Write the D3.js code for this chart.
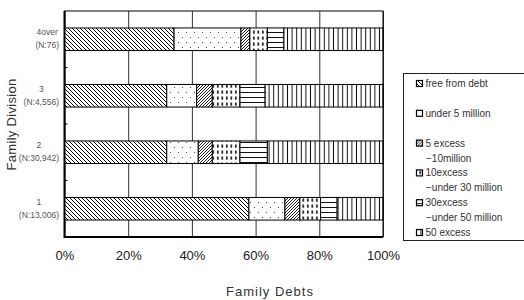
<!DOCTYPE html>
<html>
<head>
<meta charset="utf-8">
<script src="https://cdn.jsdelivr.net/npm/d3@7"></script>
<style>
  body { margin: 0; background: #fff; }
  svg { display: block; font-family: "Liberation Sans", Arial, sans-serif; }
</style>
</head>
<body>
<svg id="chart" width="524" height="300"></svg>
<script>
// categories (top to bottom) and their sample sizes
var categories = ["4over", "3", "2", "1"];
var sampleSizes = ["(N:76)", "(N:4,556)", "(N:30,942)", "(N:13,006)"];

// share of households (%) per debt class
var freeFromDebt = [34.4, 32.1, 32.1, 57.9];
var under5 = [21.0, 9.4, 9.9, 11.3];
var excess5to10 = [2.8, 4.9, 4.4, 4.7];
var excess10to30 = [5.5, 8.7, 8.7, 6.5];
var excess30to50 = [5.2, 7.9, 8.6, 5.2];
var excess50 = [31.1, 37.0, 36.3, 14.4];

var seriesKeys = ["free", "u5", "e5", "e10", "e30", "e50"];
var legendLabels = [
  ["free from debt"],
  ["under 5 million"],
  ["5 excess", "\u221210million"],
  ["10excess", "\u2212under 30 million"],
  ["30excess", "\u2212under 50 million"],
  ["50 excess"]
];
var xTicks = [0, 20, 40, 60, 80, 100];

(function() {
var rows = categories.map(function(c, i) {
  return { cat: c, n: sampleSizes[i], free: freeFromDebt[i], u5: under5[i], e5: excess5to10[i],
           e10: excess10to30[i], e30: excess30to50[i], e50: excess50[i] };
});

var svg = d3.select("#chart");
var pl = 64.5, pr = 383, pt = 11, pb = 237;

var x = d3.scaleLinear().domain([0, 100]).range([pl, pr]);
var y = d3.scaleBand().domain(categories).range([pt, pb]).paddingInner(0.6).paddingOuter(0.3);

// hatch patterns
var defs = svg.append("defs");
function pat(id, w, h) {
  return defs.append("pattern").attr("id", id).attr("patternUnits", "userSpaceOnUse")
    .attr("width", w).attr("height", h);
}
function diag(id, size, back, col) {
  var q = pat(id, size, size);
  q.append("rect").attr("width", size).attr("height", size).attr("fill", "#fff");
  d3.range(size).forEach(function(i) {
    q.append("rect").attr("x", back ? i : size - 1 - i).attr("y", i)
      .attr("width", 1).attr("height", 1).attr("fill", col);
  });
}
var p;
diag("p-free", 4, true, "#111");

p = pat("p-u5", 8, 10);
p.append("rect").attr("width", 8).attr("height", 10).attr("fill", "#fff");
p.append("rect").attr("x", 2).attr("y", 2).attr("width", 1).attr("height", 1).attr("fill", "#555");
p.append("rect").attr("x", 6).attr("y", 7).attr("width", 1).attr("height", 1).attr("fill", "#555");

diag("p-e5", 3, false, "#222");

p = pat("p-e10", 4.5, 6);
p.append("rect").attr("width", 4.5).attr("height", 6).attr("fill", "#fff");
p.append("rect").attr("x", 1).attr("y", 0.5).attr("width", 1.6).attr("height", 3.2).attr("fill", "#111");

p = pat("p-e30", 5, 5);
p.append("rect").attr("width", 5).attr("height", 5).attr("fill", "#fff");
p.append("line").attr("x1", 0).attr("x2", 5).attr("y1", 2.5).attr("y2", 2.5).attr("stroke", "#111").attr("stroke-width", 1);

p = pat("p-e50", 4.6, 5);
p.append("rect").attr("width", 4.6).attr("height", 5).attr("fill", "#fff");
p.append("line").attr("x1", 2.3).attr("x2", 2.3).attr("y1", 0).attr("y2", 5).attr("stroke", "#111").attr("stroke-width", 1);

// gridlines + x tick labels
var gx = svg.append("g").attr("transform", "translate(0," + pb + ")")
  .call(d3.axisBottom(x).tickValues(xTicks).tickSize(-(pb - pt)).tickPadding(14)
    .tickFormat(function(d) { return d + "%"; }));
gx.select(".domain").remove();
gx.selectAll("line").attr("stroke", "#333");
gx.selectAll("text").attr("font-size", 13).attr("fill", "#222")
  .attr("font-family", "'Liberation Sans', Arial, sans-serif");

// stacked bars
var stack = d3.stack().keys(seriesKeys)(rows);
svg.append("g").selectAll("g").data(stack).join("g")
  .attr("fill", function(d) { return "url(#p-" + d.key + ")"; })
  .selectAll("rect").data(function(d) { return d; }).join("rect")
  .attr("x", function(d) { return x(d[0]); })
  .attr("width", function(d) { return x(d[1]) - x(d[0]); })
  .attr("y", function(d) { return y(d.data.cat); })
  .attr("height", y.bandwidth())
  .attr("stroke", "#000").attr("stroke-width", 1);

// frame
svg.append("rect").attr("x", pl).attr("y", pt).attr("width", pr - pl).attr("height", pb - pt)
  .attr("fill", "none").attr("stroke", "#000").attr("stroke-width", 1);
svg.append("path").attr("d", "M" + pl + "," + pt + "V" + pb + "H" + pr)
  .attr("fill", "none").attr("stroke", "#000").attr("stroke-width", 2);

// small ticks between categories
var bounds = categories.slice(1).map(function(c) { return y(c) - y.step() * y.paddingInner() / 2; });
svg.append("g").selectAll("line").data(bounds).join("line")
  .attr("x1", pl).attr("x2", pl + 3).attr("y1", function(d) { return d; }).attr("y2", function(d) { return d; })
  .attr("stroke", "#000");

// category labels, two lines each
var labs = svg.append("g").selectAll("g").data(rows).join("g");
labs.each(function(d) {
  var g = d3.select(this), cy = y(d.cat) + y.bandwidth() / 2;
  var t2 = g.append("text").attr("y", cy + 9).attr("font-size", 8.5).attr("fill", "#555")
    .attr("text-anchor", "end").attr("x", 59).text(d.n);
  var w = t2.node().getComputedTextLength();
  g.append("text").attr("y", cy - 4).attr("font-size", 8.5).attr("fill", "#555")
    .attr("text-anchor", "middle").attr("x", 59 - w / 2).text(d.cat);
});

// axis titles
svg.append("text").attr("transform", "translate(16,124.5) rotate(-90)").attr("text-anchor", "middle")
  .attr("font-size", 13).attr("letter-spacing", 0.3).attr("fill", "#333").text("Family Division");
svg.append("text").attr("x", 270).attr("y", 296).attr("text-anchor", "middle")
  .attr("font-size", 13).attr("letter-spacing", 1).attr("fill", "#333").text("Family Debts");

// legend
svg.append("rect").attr("x", 403.5).attr("y", 73.5).attr("width", 130).attr("height", 167)
  .attr("fill", "#fff").attr("stroke", "#222");
var lg = svg.append("g").selectAll("g").data(seriesKeys).join("g")
  .attr("transform", function(d, i) { return "translate(0," + (87 + i * 29.8) + ")"; });
lg.append("rect").attr("x", 416.5).attr("y", -6.5).attr("width", 6).attr("height", 6)
  .attr("fill", function(d) { return "url(#p-" + d + ")"; }).attr("stroke", "#000").attr("stroke-width", 1.2);
lg.each(function(d, i) {
  var g = d3.select(this);
  legendLabels[i].forEach(function(line, j) {
    g.append("text").attr("x", j ? 426 : 425.5).attr("y", j * 15).attr("font-size", 10)
      .attr("fill", "#333").text(line);
  });
});
})();
</script>
</body>
</html>
